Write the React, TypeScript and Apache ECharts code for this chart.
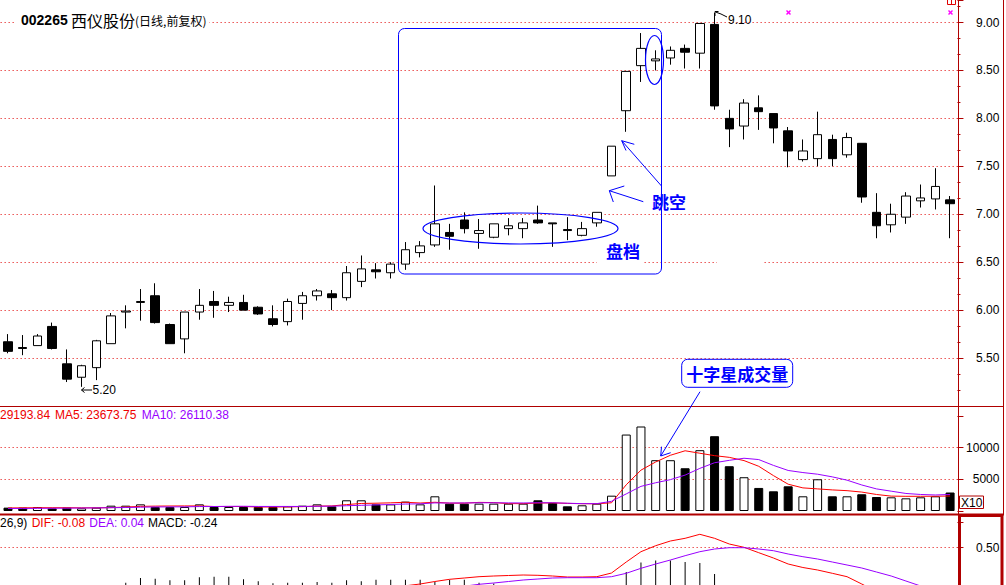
import React, { useEffect, useRef } from 'react';
import * as echarts from 'echarts';

// ---------- data ----------
const days: string[] = Array.from({ length: 65 }, (_, i) => `T${i + 1}`);

const open = [5.67, 5.61, 5.63, 5.83, 5.44, 5.30, 5.40, 5.65, 5.98, 6.08,
  6.15, 5.85, 5.70, 5.98, 6.09, 6.05, 6.08, 6.03, 5.91, 5.88,
  6.07, 6.15, 6.17, 6.13, 6.30, 6.42, 6.39, 6.48, 6.60, 6.68,
  6.81, 6.94, 6.80, 6.76, 6.85, 6.85, 6.94, 6.91, 6.84, 6.78,
  6.91, 7.40, 8.08, 8.55, 8.60, 8.63, 8.73, 8.68, 8.98, 8.00,
  7.92, 8.11, 8.05, 7.87, 7.57, 7.58, 7.78, 7.62, 7.74, 7.02,
  6.89, 6.97, 7.14, 7.16, 7.15];
const close = [5.57, 5.60, 5.73, 5.60, 5.28, 5.42, 5.68, 5.94, 5.99, 6.09,
  5.87, 5.65, 5.98, 6.05, 6.05, 6.08, 6.00, 5.96, 5.85, 6.09,
  6.15, 6.20, 6.13, 6.39, 6.43, 6.40, 6.48, 6.63, 6.67, 6.90,
  6.77, 6.85, 6.83, 6.90, 6.88, 6.91, 6.91, 6.90, 6.83, 6.85,
  7.02, 7.71, 8.49, 8.73, 8.62, 8.71, 8.69, 8.99, 8.13, 7.89,
  8.16, 8.07, 7.90, 7.66, 7.66, 7.83, 7.58, 7.80, 7.18, 6.88,
  7.00, 7.19, 7.17, 7.29, 7.11];
const low = [5.55, 5.53, 5.63, 5.59, 5.25, 5.20, 5.27, 5.65, 5.81, 5.89,
  5.86, 5.65, 5.55, 5.90, 5.92, 5.98, 6.00, 5.95, 5.83, 5.84,
  5.90, 6.10, 6.00, 6.10, 6.24, 6.33, 6.33, 6.42, 6.55, 6.66,
  6.63, 6.80, 6.64, 6.75, 6.78, 6.75, 6.90, 6.66, 6.73, 6.77,
  6.87, 7.40, 7.86, 8.38, 8.50, 8.56, 8.52, 8.52, 8.09, 7.70,
  7.78, 7.88, 7.74, 7.49, 7.55, 7.50, 7.50, 7.59, 7.12, 6.75,
  6.81, 6.90, 7.07, 7.05, 6.75];
const high = [5.75, 5.74, 5.75, 5.87, 5.59, 5.43, 5.69, 5.97, 6.05, 6.22,
  6.28, 5.86, 5.98, 6.22, 6.20, 6.14, 6.16, 6.04, 6.05, 6.12,
  6.19, 6.22, 6.21, 6.46, 6.57, 6.49, 6.50, 6.71, 6.72, 7.30,
  6.90, 7.02, 6.95, 6.90, 6.96, 6.96, 7.09, 6.91, 6.97, 6.92,
  7.02, 7.71, 8.49, 8.89, 8.71, 8.75, 8.77, 8.99, 9.10, 8.09,
  8.20, 8.24, 8.05, 7.91, 7.78, 8.07, 7.83, 7.85, 7.74, 7.22,
  7.11, 7.23, 7.31, 7.48, 7.19];

// volume in units of x10
const volume = [530, 530, 630, 420, 530, 420, 530, 840, 840, 1050,
  630, 630, 630, 1050, 630, 630, 630, 630, 630, 740,
  840, 1050, 740, 1690, 1690, 1050, 1050, 1480, 1050, 2320,
  1160, 1160, 1160, 1160, 1160, 1160, 1690, 1270, 740, 900,
  1160, 2420, 12070, 13340, 8020, 8020, 6750, 9600, 11810, 7070,
  5330, 3640, 3110, 3900, 2320, 5010, 2320, 2320, 2640, 2210,
  2160, 2000, 2160, 2320, 2919.384];
const volMA5 = [480, 500, 520, 520, 520, 500, 500, 540, 620, 730,
  770, 790, 800, 800, 710, 710, 710, 630, 630, 650,
  690, 770, 800, 1010, 1190, 1230, 1290, 1380, 1260, 1380,
  1240, 1240, 1360, 1330, 1160, 1160, 1260, 1280, 1200, 1150,
  1140, 1300, 4140, 6450, 7740, 8800, 9510, 9120, 8740, 8470,
  7960, 7060, 5590, 4230, 3650, 3490, 3330, 3210, 2990, 2610,
  2350, 2320, 2320, 2330, 2367.375];
const volMA10 = [400, 400, 420, 430, 450, 470, 490, 520, 550, 600,
  640, 650, 660, 700, 710, 740, 750, 720, 720, 720,
  720, 750, 760, 830, 900, 960, 1030, 1100, 1130, 1280,
  1260, 1270, 1300, 1300, 1280, 1270, 1300, 1300, 1230, 1160,
  1160, 1530, 2700, 3890, 4460, 4950, 5670, 6730, 7620, 8000,
  8330, 8120, 7200, 6400, 6070, 5810, 5390, 4870, 4110, 3490,
  3130, 2770, 2610, 2530, 2611.038];

const dif = [-0.29, -0.295, -0.295, -0.295, -0.30, -0.30, -0.30, -0.29, -0.222, -0.18,
  -0.164, -0.154, -0.136, -0.104, -0.081, -0.061, -0.053, -0.048, -0.044, -0.026,
  -0.011, 0.008, 0.019, 0.046, 0.057, 0.081, 0.099, 0.117, 0.135, 0.16,
  0.182, 0.195, 0.208, 0.215, 0.22, 0.225, 0.222, 0.215, 0.205, 0.205,
  0.208, 0.245, 0.355, 0.458, 0.518, 0.565, 0.592, 0.632, 0.592, 0.535,
  0.502, 0.448, 0.395, 0.335, 0.30, 0.275, 0.242, 0.208, 0.135, 0.06,
  0.02, -0.01, -0.04, -0.06, -0.08];
const dea = [-0.26, -0.27, -0.28, -0.29, -0.30, -0.305, -0.31, -0.31, -0.296, -0.278,
  -0.258, -0.24, -0.222, -0.205, -0.185, -0.165, -0.145, -0.13, -0.115, -0.10,
  -0.085, -0.07, -0.055, -0.04, -0.025, -0.008, 0.01, 0.028, 0.046, 0.069,
  0.092, 0.113, 0.132, 0.145, 0.16, 0.175, 0.185, 0.195, 0.198, 0.198,
  0.198, 0.208, 0.242, 0.292, 0.335, 0.375, 0.418, 0.458, 0.485, 0.498,
  0.498, 0.485, 0.468, 0.435, 0.408, 0.385, 0.355, 0.325, 0.295, 0.255,
  0.215, 0.165, 0.115, 0.075, 0.04];
const macd = [-0.06, -0.05, -0.03, -0.01, 0.0, 0.01, 0.02, 0.04, 0.148, 0.195,
  0.187, 0.172, 0.172, 0.202, 0.208, 0.208, 0.183, 0.163, 0.142, 0.148,
  0.148, 0.155, 0.148, 0.172, 0.163, 0.178, 0.178, 0.178, 0.178, 0.155,
  0.178, 0.178, 0.148, 0.14, 0.12, 0.10, 0.074, 0.04, 0.014, 0.014,
  0.02, 0.074, 0.255, 0.35, 0.37, 0.37, 0.355, 0.345, 0.235, 0.074,
  0.008, -0.074, -0.146, -0.2, -0.216, -0.22, -0.226, -0.234, -0.32, -0.39,
  -0.39, -0.35, -0.31, -0.27, -0.24];

const priceTicks = [5.5, 6.0, 6.5, 7.0, 7.5, 8.0, 8.5, 9.0];
const volTicks = [5000, 10000];
const macdTicks = [0.5];

// ---------- styles ----------
const FONT = '"Liberation Sans", Arial, "Noto Sans CJK SC", sans-serif';
const CJK = '"Noto Sans CJK SC", "Noto Sans", sans-serif';
const RED_DOT = '#e00000';
const AXIS_RED = '#b00000';
const BLUE = '#0000ff';
const PURPLE = '#9900ff';
const RED = '#ff0000';
const GRID_LEFT = 0.64;
const GRID_W = 956.8;

const hasTick = (ticks: number[], v: number) => ticks.some((t) => Math.abs(t - v) < 1e-6);

function buildOption() {
  const last = days.length - 1;
  const candles = days.map((_, i) => [open[i], close[i], low[i], high[i]]);
  const volBars = volume.map((v, i) => ({
    value: v,
    itemStyle: { color: close[i] >= open[i] ? '#ffffff' : '#000000' },
  }));
  const maxHigh = Math.max(...high);
  const minLow = Math.min(...low);

  const yBase = (gridIndex: number) => ({
    type: 'value',
    gridIndex,
    position: 'right',
    axisLine: { show: false },
    axisTick: { show: true, length: 6, lineStyle: { color: AXIS_RED } },
    splitLine: {
      show: true,
      showMinLine: false,
      showMaxLine: false,
      lineStyle: { color: RED_DOT, type: [1, 3], width: 1 },
    },
  });
  const labelBase = { margin: 42, align: 'right', color: '#000', fontSize: 12, fontFamily: FONT };

  const line = (x1: number, y1: number, x2: number, y2: number, stroke: string, lineWidth = 1, z = 100) => ({
    type: 'line', z, silent: true, shape: { x1, y1, x2, y2 }, style: { stroke, lineWidth },
  });
  const poly = (points: number[][], stroke: string, lineWidth = 1) => ({
    type: 'polyline', z: 100, silent: true, shape: { points }, style: { stroke, lineWidth, fill: 'none' },
  });
  const text = (x: number, y: number, t: string, fill: string, font: string, align = 'left', z = 101) => ({
    type: 'text', z, silent: true, x, y,
    style: { text: t, fill, font, align, verticalAlign: 'middle' },
  });

  const graphic: any[] = [
    // gaps in the 6.50 grid line
    { type: 'rect', z: 1, silent: true, shape: { x: 597, y: 259, width: 46, height: 6 }, style: { fill: '#fff' } },
    { type: 'rect', z: 1, silent: true, shape: { x: 717, y: 259, width: 46, height: 6 }, style: { fill: '#fff' } },
    // frame lines
    line(958.5, 0, 958.5, 515, AXIS_RED, 1, 90),
    line(1003.5, 0, 1003.5, 515, AXIS_RED, 1, 90),
    line(0, 406.5, 1004, 406.5, AXIS_RED, 1, 90),
    line(0, 514.5, 1004, 514.5, AXIS_RED, 2, 90),
    { type: 'rect', z: 90, silent: true, shape: { x: 959.5, y: 515.5, width: 42.5, height: 80 }, style: { fill: 'none', stroke: AXIS_RED, lineWidth: 3 } },
    // X10 box
    { type: 'rect', z: 90, silent: true, shape: { x: 959.5, y: 496, width: 24, height: 12.5 }, style: { fill: '#fff', stroke: AXIS_RED, lineWidth: 1 } },
    text(961, 502.5, 'X10', '#000', `12px ${FONT}`),
    // title
    {
      type: 'text', z: 101, silent: true, x: 14, y: 20,
      style: {
        text: '{a|002265} {b|西仪股份}{c|(日线,前复权)}',
        verticalAlign: 'middle',
        backgroundColor: '#ffffff',
        padding: [2, 3, 2, 7],
        rich: {
          a: { fontSize: 14, fontWeight: 'bold', fontFamily: FONT, fill: '#000' },
          b: { fontSize: 16, fontFamily: CJK, fill: '#000' },
          c: { fontSize: 12, fontFamily: CJK, fill: '#000' },
        },
      },
    },
    // legends
    text(0, 415, (volume[last] * 10).toFixed(2), '#ee0000', `12px ${FONT}`),
    text(55, 415, `MA5: ${(volMA5[last] * 10).toFixed(2)}`, '#ee0000', `12px ${FONT}`),
    text(141.7, 415, `MA10: ${(volMA10[last] * 10).toFixed(2)}`, PURPLE, `12px ${FONT}`),
    text(0, 522.5, '26,9)', '#000', `12px ${FONT}`),
    text(31.7, 522.5, `DIF: ${dif[last].toFixed(2)}`, '#ee0000', `12px ${FONT}`),
    text(89.3, 522.5, `DEA: ${dea[last].toFixed(2)}`, PURPLE, `12px ${FONT}`),
    text(148, 522.5, `MACD: ${macd[last].toFixed(2)}`, '#000', `12px ${FONT}`),
    // low / high price markers
    line(81.5, 390, 92, 390, '#000', 1),
    poly([[84.5, 387.5], [81.5, 390], [84.5, 392.5]], '#000', 1),
    text(92.5, 390, minLow.toFixed(2), '#000', `12px ${FONT}`),
    poly([[715, 16], [715, 11.5], [718.5, 11.5]], '#000', 1),
    poly([[715.5, 12], [721, 14], [727, 17]], '#000', 1),
    text(728, 19.5, maxHigh.toFixed(2), '#000', `12px ${FONT}`),
    // magenta marks
    line(786.5, 10.5, 790.5, 14.5, '#ff00ff', 1.5),
    line(786.5, 14.5, 790.5, 10.5, '#ff00ff', 1.5),
    line(948.5, 10.5, 952.5, 14.5, '#ff00ff', 1.5),
    line(948.5, 14.5, 952.5, 10.5, '#ff00ff', 1.5),
    // small red box top right
    { type: 'rect', z: 100, silent: true, shape: { x: 947.5, y: -4, width: 8, height: 8.5 }, style: { fill: 'none', stroke: '#e00000', lineWidth: 1 } },
    line(951.5, -3, 951.5, 4.5, '#e00000', 1),
    // annotation box
    { type: 'rect', z: 100, silent: true, shape: { x: 398.5, y: 28.5, width: 263, height: 245.5, r: 6 }, style: { fill: 'none', stroke: BLUE, lineWidth: 1 } },
    { type: 'ellipse', z: 100, silent: true, shape: { cx: 520.5, cy: 228.5, rx: 97.5, ry: 15.5 }, style: { fill: 'none', stroke: BLUE, lineWidth: 1.2 } },
    { type: 'ellipse', z: 100, silent: true, shape: { cx: 654.5, cy: 60, rx: 9, ry: 24.5 }, style: { fill: 'none', stroke: BLUE, lineWidth: 1.2 } },
    text(606, 250, '盘档', BLUE, `bold 17px ${CJK}`),
    text(652, 201.5, '跳空', BLUE, `bold 17px ${CJK}`),
    // gap arrows
    line(661.5, 186, 621.7, 140.7, BLUE, 1),
    poly([[634.3, 144.3], [621.7, 140.7], [626, 150.5]], BLUE, 1),
    line(643.3, 201.7, 609.3, 190.7, BLUE, 1),
    poly([[624.3, 186], [609.3, 190.7], [613.3, 202]], BLUE, 1),
    // volume callout
    { type: 'rect', z: 100, silent: true, shape: { x: 681.7, y: 359.3, width: 111, height: 28, r: 6 }, style: { fill: '#fff', stroke: BLUE, lineWidth: 1 } },
    text(737.2, 373.5, '十字星成交量', BLUE, `bold 17px ${CJK}`, 'center'),
    line(700, 391.7, 660.7, 456, BLUE, 1),
    poly([[670.7, 452.7], [660.7, 456], [661.5, 446.7]], BLUE, 1),
  ];

  return {
    animation: false,
    backgroundColor: '#ffffff',
    grid: [
      { left: GRID_LEFT, width: GRID_W, top: 0, height: 406 },
      { left: GRID_LEFT, width: GRID_W, top: 416, height: 95 },
      { left: GRID_LEFT, width: GRID_W, top: 522.5, height: 125 },
    ],
    xAxis: [0, 1, 2].map((gi) => ({
      type: 'category', gridIndex: gi, data: days, boundaryGap: true, show: false,
    })),
    yAxis: [
      {
        ...yBase(0),
        min: 5.0,
        max: 9.2347,
        interval: 0.5,
        minorTick: { show: true, splitNumber: 3, length: 3, lineStyle: { color: AXIS_RED } },
        axisLabel: { ...labelBase, formatter: (v: number) => (hasTick(priceTicks, v) ? v.toFixed(2) : '') },
      },
      {
        ...yBase(1),
        min: 0,
        max: 15000,
        interval: 5000,
        axisLabel: { ...labelBase, formatter: (v: number) => (hasTick(volTicks, v) ? String(v) : '') },
      },
      {
        ...yBase(2),
        min: -0.5,
        max: 0.75,
        interval: 0.5,
        axisLabel: { ...labelBase, formatter: (v: number) => (hasTick(macdTicks, v) ? v.toFixed(2) : '') },
      },
    ],
    series: [
      {
        type: 'candlestick', name: 'K', xAxisIndex: 0, yAxisIndex: 0, data: candles, barWidth: 9,
        itemStyle: { color: '#ffffff', color0: '#000000', borderColor: '#000000', borderColor0: '#000000', borderWidth: 1 },
      },
      {
        type: 'bar', name: 'VOL', xAxisIndex: 1, yAxisIndex: 1, data: volBars, barWidth: 9,
        itemStyle: { borderColor: '#000000', borderWidth: 1 },
      },
      {
        type: 'line', name: 'MA5', xAxisIndex: 1, yAxisIndex: 1, data: volMA5, showSymbol: false,
        lineStyle: { color: RED, width: 1 }, itemStyle: { color: RED },
      },
      {
        type: 'line', name: 'MA10', xAxisIndex: 1, yAxisIndex: 1, data: volMA10, showSymbol: false,
        lineStyle: { color: PURPLE, width: 1 }, itemStyle: { color: PURPLE },
      },
      {
        type: 'bar', name: 'MACD', xAxisIndex: 2, yAxisIndex: 2, data: macd, barWidth: 1,
        itemStyle: { color: '#000000' },
      },
      {
        type: 'line', name: 'DIF', xAxisIndex: 2, yAxisIndex: 2, data: dif, showSymbol: false,
        lineStyle: { color: RED, width: 1 }, itemStyle: { color: RED },
      },
      {
        type: 'line', name: 'DEA', xAxisIndex: 2, yAxisIndex: 2, data: dea, showSymbol: false,
        lineStyle: { color: PURPLE, width: 1 }, itemStyle: { color: PURPLE },
      },
    ],
    graphic,
  };
}

export default function App() {
  const ref = useRef<HTMLDivElement | null>(null);
  useEffect(() => {
    document.body.style.margin = '0';
    if (!ref.current) return;
    const chart = echarts.init(ref.current, undefined, { renderer: 'svg' });
    chart.setOption(buildOption() as any);
    return () => chart.dispose();
  }, []);
  return (
    <div
      style={{ position: 'absolute', left: 0, top: 0, width: 1006, height: 585, overflow: 'hidden', background: '#fff' }}
    >
      <div ref={ref} style={{ width: 1006, height: 650 }} />
    </div>
  );
}
